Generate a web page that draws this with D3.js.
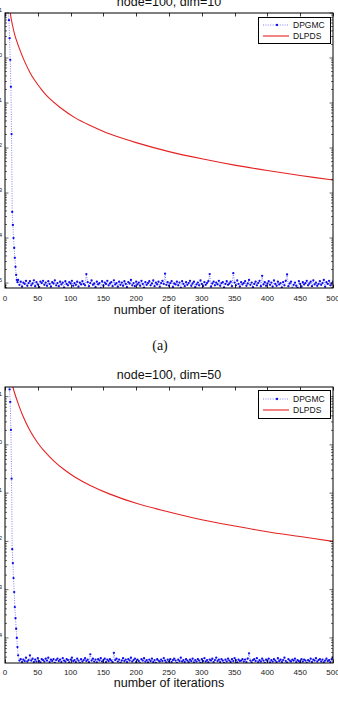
<!DOCTYPE html>
<html>
<head>
<meta charset="utf-8">
<script src="https://cdn.jsdelivr.net/npm/d3@7"></script>
<style>
  html, body { margin: 0; padding: 0; background: #fff; }
  svg { display: block; }
</style>
</head>
<body>
<script>
// x axis ticks (iterations)
var xTicks = [0, 50, 100, 150, 200, 250, 300, 350, 400, 450, 500];

// ---------- panel (a): node=100, dim=10 (values are log10) ----------
var dlpdsIterA = [7, 8, 10, 15, 23, 30, 38, 45, 53, 65, 84, 107, 130, 160, 200, 250, 300, 350, 400, 450, 500];
var dlpdsLogA  = [1.10, 1.00, 0.83, 0.51, 0.17, -0.08, -0.32, -0.49, -0.65, -0.86, -1.10, -1.33, -1.50, -1.69, -1.88, -2.08, -2.24, -2.38, -2.50, -2.61, -2.71];

// DPGMC, iterations 1..19
var dpgmcHeadA = [1.9, 1.7, 1.5, 1.3, 1.05, 0.84, 0.44, -0.04, -0.64, -1.69, -3.42, -3.71, -4.0, -4.22, -4.44, -4.64, -4.82, -4.93, -4.98];
// DPGMC, iterations 20..500 step 2
var dpgmcTailA = [
  -4.93,-5.04,-4.97,-5.08,-4.99,-5.02,-4.95,-5.06,-5.00,-4.96,
  -5.05,-5.01,-4.94,-5.07,-4.98,-5.03,-5.09,-4.97,-5.00,-4.95,
  -5.04,-4.99,-5.06,-4.96,-5.02,-5.08,-4.98,-5.01,-4.94,-5.05,
  -5.00,-5.07,-4.97,-5.03,-4.99,-5.10,-4.96,-5.02,-5.05,-4.98,
  -5.01,-4.95,-5.06,-5.00,-5.04,-4.97,-5.08,-4.99,-5.03,-4.96,
  -5.02,-5.05,-4.80,-4.98,-5.07,-5.00,-4.94,-5.04,-5.01,-5.09,
  -4.97,-5.03,-5.00,-5.12,-4.96,-5.06,-4.99,-5.02,-4.95,-5.05,
  -5.01,-4.98,-5.07,-4.94,-5.03,-5.00,-5.08,-4.97,-5.04,-4.99,
  -5.06,-4.96,-5.02,-5.09,-4.98,-5.01,-4.93,-5.05,-5.00,-5.07,
  -4.97,-5.03,-4.99,-5.06,-4.95,-5.02,-5.10,-4.98,-5.04,-5.00,
  -4.96,-5.05,-5.01,-4.94,-5.07,-4.99,-5.03,-4.97,-5.08,-5.00,
  -4.95,-5.02,-4.79,-5.04,-4.98,-5.06,-5.00,-4.96,-5.09,-5.01,
  -5.03,-4.97,-5.05,-4.99,-5.11,-4.96,-5.02,-5.07,-4.98,-5.04,
  -5.00,-4.95,-5.06,-5.01,-4.97,-5.09,-5.03,-4.99,-5.05,-4.94,
  -5.02,-5.07,-4.98,-5.04,-5.00,-4.96,-4.80,-5.08,-5.01,-4.97,
  -5.05,-4.99,-5.03,-4.95,-5.06,-5.00,-4.98,-5.10,-5.02,-4.96,
  -5.04,-5.01,-4.97,-5.07,-4.78,-4.99,-5.05,-4.94,-5.02,-5.08,
  -4.98,-5.03,-5.00,-4.96,-5.06,-5.01,-4.93,-5.04,-4.99,-5.09,
  -5.02,-4.97,-5.05,-5.00,-4.95,-5.07,-4.84,-5.03,-4.98,-5.06,
  -5.01,-4.96,-5.04,-4.99,-5.08,-4.94,-5.02,-5.06,-4.97,-5.03,
  -5.00,-5.10,-4.98,-5.05,-4.95,-4.81,-5.07,-5.01,-4.97,-5.12,
  -5.04,-4.99,-5.06,-5.11,-4.96,-5.02,-5.08,-4.98,-5.03,-5.00,
  -4.95,-5.05,-5.01,-4.97,-5.07,-4.94,-5.03,-4.99,-5.06,-5.02,
  -4.96,-5.04,-5.00,-4.93,-5.08,-4.98,-5.02,-4.95,-5.05,-5.01,
  -4.97
];

// ---------- panel (b): node=100, dim=50 (values are log10) ----------
var dlpdsIterB = [12, 15, 20, 27, 38, 50, 60, 75, 90, 107, 130, 160, 200, 250, 300, 350, 400, 450, 500];
var dlpdsLogB  = [1.20, 1.06, 0.86, 0.61, 0.30, 0.04, -0.13, -0.34, -0.51, -0.67, -0.84, -1.02, -1.21, -1.39, -1.55, -1.68, -1.80, -1.90, -2.00];

var dpgmcHeadB = [2.2, 2.0, 1.8, 1.6, 1.45, 1.3, 1.15, 0.89, 0.31, -0.70, -2.16, -2.45, -2.76, -3.05, -3.36, -3.59, -3.81, -4.0, -4.19];
var dpgmcTailB = [
  -4.36,-4.47,-4.44,-4.50,-4.45,-4.48,-4.41,-4.49,-4.46,-4.36,
  -4.47,-4.43,-4.50,-4.45,-4.49,-4.42,-4.48,-4.51,-4.44,-4.46,
  -4.49,-4.43,-4.47,-4.41,-4.50,-4.45,-4.48,-4.44,-4.52,-4.46,
  -4.43,-4.48,-4.45,-4.50,-4.42,-4.47,-4.49,-4.44,-4.46,-4.51,
  -4.45,-4.41,-4.48,-4.46,-4.50,-4.43,-4.47,-4.52,-4.44,-4.49,
  -4.46,-4.42,-4.48,-4.45,-4.50,-4.34,-4.47,-4.43,-4.49,-4.45,
  -4.51,-4.44,-4.47,-4.42,-4.49,-4.46,-4.43,-4.50,-4.45,-4.48,
  -4.44,-4.47,-4.50,-4.31,-4.46,-4.43,-4.49,-4.45,-4.52,-4.47,
  -4.42,-4.48,-4.45,-4.50,-4.44,-4.47,-4.41,-4.49,-4.46,-4.43,
  -4.50,-4.45,-4.48,-4.53,-4.44,-4.47,-4.42,-4.49,-4.46,-4.51,
  -4.45,-4.48,-4.43,-4.50,-4.46,-4.52,-4.44,-4.47,-4.49,-4.45,
  -4.48,-4.42,-4.47,-4.51,-4.45,-4.49,-4.44,-4.50,-4.46,-4.43,
  -4.47,-4.52,-4.45,-4.48,-4.41,-4.49,-4.46,-4.50,-4.44,-4.47,
  -4.50,-4.45,-4.48,-4.43,-4.51,-4.46,-4.49,-4.44,-4.47,-4.52,
  -4.44,-4.48,-4.42,-4.49,-4.46,-4.51,-4.45,-4.47,-4.43,-4.50,
  -4.46,-4.41,-4.48,-4.45,-4.50,-4.44,-4.47,-4.52,-4.45,-4.49,
  -4.43,-4.47,-4.50,-4.44,-4.48,-4.42,-4.46,-4.51,-4.45,-4.48,
  -4.47,-4.44,-4.49,-4.45,-4.50,-4.43,-4.32,-4.47,-4.51,-4.46,
  -4.44,-4.48,-4.42,-4.50,-4.46,-4.49,-4.43,-4.47,-4.52,-4.45,
  -4.48,-4.43,-4.51,-4.46,-4.49,-4.44,-4.47,-4.50,-4.42,-4.48,
  -4.45,-4.50,-4.46,-4.41,-4.48,-4.52,-4.44,-4.47,-4.49,-4.45,
  -4.47,-4.43,-4.50,-4.46,-4.48,-4.51,-4.44,-4.49,-4.45,-4.47,
  -4.52,-4.46,-4.48,-4.43,-4.50,-4.45,-4.47,-4.42,-4.49,-4.46,
  -4.44,-4.49,-4.45,-4.51,-4.47,-4.43,-4.48,-4.46,-4.50,-4.44,
  -4.41
];

var yExpsA = [1, 0, -1, -2, -3, -4, -5];
var yExpsB = [1, 0, -1, -2, -3, -4];

var svg = d3.select("body").append("svg")
    .attr("width", 338)
    .attr("height", 712);

var sans = "'Liberation Sans', Arial, Helvetica, sans-serif";
var blueLine = "#4a4aff", blueDot = "#0c0cee", redLine = "#e52222";

function drawPanel(p) {
    var x = d3.scaleLinear().domain([0, 500]).range([p.left, p.right]);
    var y = d3.scaleLog().domain([Math.pow(10, p.yMin), Math.pow(10, p.yMax)]).range([p.bottom, p.top]);

    var g = svg.append("g");
    var clipId = "clip" + p.id;
    svg.append("clipPath").attr("id", clipId)
        .append("rect")
        .attr("x", p.left).attr("y", p.top)
        .attr("width", p.right - p.left).attr("height", p.bottom - p.top);

    var plot = g.append("g").attr("clip-path", "url(#" + clipId + ")");

    // DPGMC points: head every iteration, tail every 2nd iteration
    var blue = [];
    p.head.forEach(function (v, i) { blue.push({ k: i + 1, v: v }); });
    p.tail.forEach(function (v, i) { blue.push({ k: 20 + 2 * i, v: v }); });

    var px = function (d) { return x(d.k); };
    var py = function (d) { return y(Math.pow(10, d.v)); };

    plot.append("path")
        .datum(blue)
        .attr("d", d3.line().x(px).y(py))
        .attr("fill", "none")
        .attr("stroke", blueLine)
        .attr("stroke-width", 0.7)
        .attr("stroke-dasharray", "1,1.4");

    plot.selectAll("circle.dp")
        .data(blue)
        .enter()
        .append("circle")
        .attr("class", "dp")
        .attr("cx", px)
        .attr("cy", py)
        .attr("r", 1.15)
        .attr("fill", blueDot);

    // DLPDS curve
    var red = p.redIter.map(function (k, i) { return { k: k, v: p.redLog[i] }; });
    plot.append("path")
        .datum(red)
        .attr("d", d3.line().x(px).y(py).curve(d3.curveCatmullRom.alpha(0.5)))
        .attr("fill", "none")
        .attr("stroke", redLine)
        .attr("stroke-width", 1.1);

    // frame
    g.append("rect")
        .attr("x", p.left).attr("y", p.top)
        .attr("width", p.right - p.left).attr("height", p.bottom - p.top)
        .attr("fill", "none")
        .attr("stroke", "#000")
        .attr("stroke-width", 1);

    // x ticks, inward on bottom and top
    xTicks.forEach(function (t) {
        var xx = Math.round(x(t)) + 0.5;
        g.append("line").attr("x1", xx).attr("x2", xx)
            .attr("y1", p.bottom).attr("y2", p.bottom - 3.5)
            .attr("stroke", "#000").attr("stroke-width", 0.8);
        g.append("line").attr("x1", xx).attr("x2", xx)
            .attr("y1", p.top).attr("y2", p.top + 3.5)
            .attr("stroke", "#000").attr("stroke-width", 0.8);
        g.append("text")
            .attr("x", x(t))
            .attr("y", p.tickLabelY)
            .attr("text-anchor", "middle")
            .attr("font-family", sans)
            .attr("font-size", "8px")
            .attr("fill", "#222")
            .text(t);
    });

    // y ticks (log), inward on left and right
    var lo = Math.floor(p.yMin), hi = Math.ceil(p.yMax);
    for (var e = lo; e <= hi; e++) {
        for (var m = 1; m <= 9; m++) {
            var val = m * Math.pow(10, e);
            var lv = Math.log10(val);
            if (lv < p.yMin || lv > p.yMax) continue;
            var yy = y(val);
            var len = (m === 1) ? 3.5 : 2;
            g.append("line").attr("x1", p.left).attr("x2", p.left + len)
                .attr("y1", yy).attr("y2", yy)
                .attr("stroke", "#000").attr("stroke-width", 0.6);
            g.append("line").attr("x1", p.right).attr("x2", p.right - len)
                .attr("y1", yy).attr("y2", yy)
                .attr("stroke", "#000").attr("stroke-width", 0.6);
        }
    }

    // y tick labels (mostly cut off at the page edge, as in the original)
    p.yExps.forEach(function (ex) {
        var t = g.append("text")
            .attr("x", p.left - 3)
            .attr("y", y(Math.pow(10, ex)) + 3)
            .attr("text-anchor", "end")
            .attr("font-family", sans)
            .attr("font-size", "8px")
            .attr("fill", "#222");
        t.append("tspan").text("10");
        t.append("tspan").attr("dy", -4).attr("font-size", "6px").text(ex < 0 ? "\u2212" + (-ex) : ex);
    });

    // title and axis label
    g.append("text")
        .attr("x", (p.left + p.right) / 2)
        .attr("y", p.titleY)
        .attr("text-anchor", "middle")
        .attr("font-family", sans)
        .attr("font-size", "12.5px")
        .attr("fill", "#111")
        .text(p.title);

    g.append("text")
        .attr("x", (p.left + p.right) / 2)
        .attr("y", p.xLabelY)
        .attr("text-anchor", "middle")
        .attr("font-family", sans)
        .attr("font-size", "12.5px")
        .attr("fill", "#111")
        .text("number of iterations");

    // legend
    var L = p.legend;
    g.append("rect")
        .attr("x", L.x + 0.5).attr("y", L.y + 0.5)
        .attr("width", L.w).attr("height", L.h)
        .attr("fill", "#fff")
        .attr("stroke", "#000")
        .attr("stroke-width", 1);

    g.append("line")
        .attr("x1", L.x + 5).attr("x2", L.x + 31)
        .attr("y1", L.row1).attr("y2", L.row1)
        .attr("stroke", blueLine).attr("stroke-width", 0.7)
        .attr("stroke-dasharray", "1,1.4");
    g.append("circle")
        .attr("cx", L.x + 19).attr("cy", L.row1)
        .attr("r", 1.15).attr("fill", blueDot);
    g.append("line")
        .attr("x1", L.x + 5).attr("x2", L.x + 31)
        .attr("y1", L.row2).attr("y2", L.row2)
        .attr("stroke", redLine).attr("stroke-width", 1.1);

    [["DPGMC", L.row1], ["DLPDS", L.row2]].forEach(function (r) {
        g.append("text")
            .attr("x", L.x + 35)
            .attr("y", r[1] + 3)
            .attr("font-family", sans)
            .attr("font-size", "8.5px")
            .attr("fill", "#111")
            .text(r[0]);
    });
}

drawPanel({
    id: "a", left: 5, right: 333, top: 13, bottom: 288,
    yMin: -5.11, yMax: 1,
    title: "node=100, dim=10", titleY: 6,
    tickLabelY: 301, xLabelY: 314,
    yExps: yExpsA,
    legend: { x: 258, y: 17, w: 72, h: 26, row1: 25, row2: 36 },
    redIter: dlpdsIterA, redLog: dlpdsLogA,
    head: dpgmcHeadA, tail: dpgmcTailA
});

svg.append("text")
    .attr("x", 160)
    .attr("y", 350)
    .attr("text-anchor", "middle")
    .attr("font-family", "'Liberation Serif', 'Times New Roman', serif")
    .attr("font-size", "14px")
    .attr("fill", "#111")
    .text("(a)");

drawPanel({
    id: "b", left: 5, right: 333, top: 387, bottom: 663,
    yMin: -4.52, yMax: 1.2,
    title: "node=100, dim=50", titleY: 379,
    tickLabelY: 675, xLabelY: 687,
    yExps: yExpsB,
    legend: { x: 258, y: 390, w: 72, h: 28, row1: 399, row2: 410 },
    redIter: dlpdsIterB, redLog: dlpdsLogB,
    head: dpgmcHeadB, tail: dpgmcTailB
});
</script>
</body>
</html>
